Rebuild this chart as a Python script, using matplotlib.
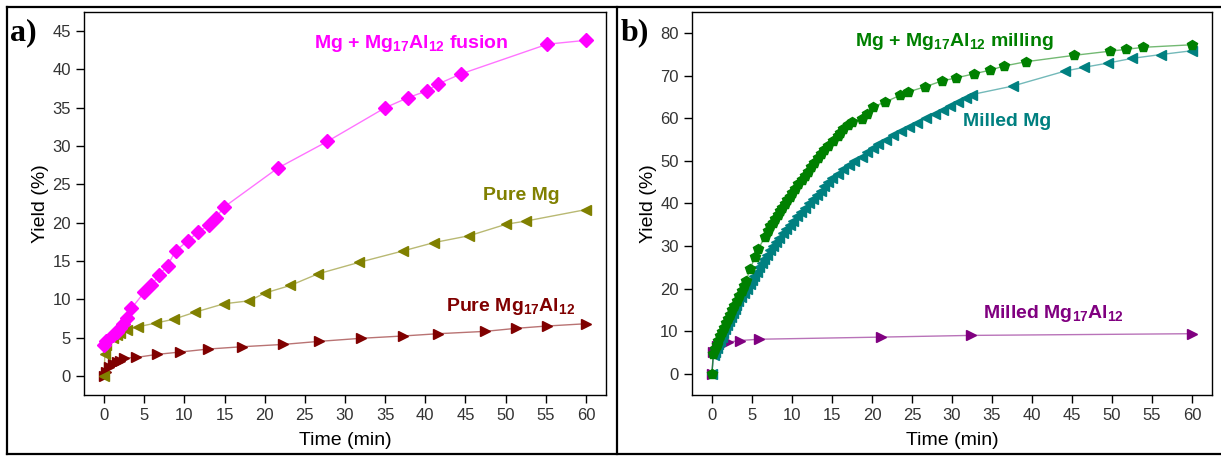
import numpy as np
import matplotlib
matplotlib.use("Agg")
import matplotlib.pyplot as plt
from matplotlib.lines import Line2D

plt.rcParams.update({"font.family": ["Liberation Sans", "DejaVu Sans"],
                     "mathtext.default": "regular",
                     "axes.linewidth": 1.0})

# ---- panel a data ----
fusion_t = [0, 0.3, 1.1, 1.6, 2.0, 2.4, 2.8, 3.4, 5.0, 5.9, 6.8, 7.9, 8.9, 10.4, 11.7,
            13.1, 13.9, 14.9, 21.6, 27.8, 35.0, 37.8, 40.2, 41.6, 44.4, 55.2, 60.0]
fusion_y = [4.0, 4.6, 5.3, 5.7, 6.2, 6.8, 7.5, 8.8, 10.9, 11.8, 13.1, 14.4, 16.3, 17.6, 18.8,
            19.7, 20.6, 22.0, 27.1, 30.6, 35.0, 36.3, 37.2, 38.1, 39.4, 43.3, 43.8]

mg_t = [0, 0.1, 0.3, 1.1, 1.6, 2.0, 2.8, 4.2, 6.5, 8.7, 11.3, 14.9, 18.1, 20.0, 23.2,
        26.6, 31.7, 37.2, 41.1, 45.5, 50.1, 52.5, 60.0]
mg_y = [0.0, 2.9, 4.0, 4.9, 5.3, 5.6, 6.0, 6.4, 6.9, 7.4, 8.3, 9.4, 9.8, 10.8, 11.8,
        13.3, 14.8, 16.3, 17.4, 18.3, 19.8, 20.2, 21.7]

al_t = [0, 0.2, 0.6, 1.1, 1.6, 2.0, 2.5, 4.0, 6.6, 9.4, 13.0, 17.2, 22.3, 26.8, 32.0,
        37.2, 41.6, 47.4, 51.3, 55.1, 60.0]
al_y = [0.0, 0.5, 1.2, 1.6, 1.8, 2.0, 2.3, 2.4, 2.8, 3.1, 3.5, 3.8, 4.1, 4.5, 4.9,
        5.2, 5.5, 5.8, 6.2, 6.5, 6.8]

# ---- panel b data ----
milling_t = [0, 0.17, 0.4, 0.6, 0.8, 1.0, 1.25, 1.5, 1.75, 2.0, 2.25, 2.5, 2.8, 3.1, 3.4,
             3.7, 4.0, 4.3, 4.75, 5.4, 5.8, 6.6, 7.0, 7.3, 7.6, 7.9, 8.2, 8.5, 8.8, 9.1,
             9.4, 9.7, 10.0, 10.4, 10.8, 11.2, 11.6, 12.0, 12.4, 12.8, 13.2, 13.6, 14.0,
             14.5, 15.1, 15.7, 16.0, 16.4, 17.0, 17.5, 18.75, 19.4, 20.1, 21.6, 23.5, 24.5,
             26.6, 28.75, 30.5, 32.8, 34.7, 36.5, 39.2, 45.2, 49.8, 51.7, 53.9, 60.0]
milling_y = [0, 4.6, 5.8, 6.8, 7.8, 8.8, 9.8, 10.8, 11.8, 12.8, 13.8, 14.9, 15.9, 17.0, 18.2,
             19.4, 20.6, 21.8, 24.6, 27.4, 29.3, 32.1, 33.5, 34.6, 35.5, 36.4, 37.3, 38.2, 39.0, 39.9,
             40.8, 41.6, 42.5, 43.5, 44.5, 45.5, 46.5, 47.5, 48.5, 49.6, 50.6, 51.6, 52.5,
             53.6, 54.8, 55.8, 56.6, 57.6, 58.4, 59.1, 59.9, 61.1, 62.7, 63.8, 65.4, 66.2,
             67.4, 68.8, 69.5, 70.5, 71.3, 72.3, 73.3, 74.8, 75.8, 76.2, 76.7, 77.3]

milled_t = [0, 0.2, 0.4, 0.6, 0.8, 1.0, 1.2, 1.4, 1.6, 1.85, 2.1, 2.35, 2.6, 2.85, 3.05,
            3.3, 3.65, 4.0, 4.4, 4.7, 5.0, 5.3, 5.6, 5.9, 6.2, 6.5, 6.85, 7.2, 7.6, 8.0,
            8.4, 8.85, 9.3, 9.7, 10.15, 10.6, 11.1, 11.6, 12.1, 12.6, 13.1, 13.6, 14.0,
            14.5, 15.0, 15.7, 16.4, 17.1, 17.8, 18.7, 19.4, 20.1, 20.8, 21.7, 22.6, 23.6,
            24.6, 25.6, 26.8, 27.9, 28.9, 29.8, 30.8, 31.7, 32.5,
            37.6, 44.1, 46.5, 49.5, 52.5, 56.1, 60.0]
milled_y = [0, 4.3, 5.2, 6.1, 7.0, 7.8, 8.7, 9.6, 10.5, 11.5, 12.5, 13.4, 14.3, 15.2, 16.1,
            17.0, 18.0, 19.0, 20.0, 21.0, 22.0, 23.0, 24.0, 25.0, 26.0, 27.0, 28.0, 29.0, 30.0, 31.0,
            32.0, 33.0, 34.0, 35.0, 36.0, 37.0, 38.0, 39.0, 40.0, 41.0, 42.0, 43.0, 44.0,
            45.0, 46.0, 47.0, 48.0, 49.0, 50.0, 51.0, 52.0, 53.0, 54.0, 55.0, 56.0, 57.0,
            58.0, 59.0, 60.0, 61.0, 62.0, 63.0, 63.9, 64.8, 65.6,
            67.6, 71.1, 72.0, 73.0, 74.1, 75.0, 75.9]

malloy_t = [0, 0.17, 0.6, 1.2, 2.0, 3.5, 5.9, 21.1, 32.4, 60.0]
malloy_y = [0, 5.0, 6.4, 7.0, 7.4, 7.8, 8.1, 8.6, 9.0, 9.4]

MAG, OLV, DRD = "#ff00ff", "#808000", "#800000"
GRN, TEA, PUR = "#008000", "#008080", "#800080"

fig = plt.figure(figsize=(12.21, 4.58), dpi=100)
axa = fig.add_axes([0.0688, 0.1376, 0.4275, 0.8362])
axb = fig.add_axes([0.5667, 0.1376, 0.4259, 0.8362])


def series(ax, t, y, col, mk, ms=7):
    ax.plot(t, y, color=col, lw=1.0, alpha=0.55, zorder=2)
    ax.plot(t, y, ls="none", marker=mk, ms=ms, color=col, mec=col, zorder=3)


series(axa, al_t, al_y, DRD, ">")
series(axa, mg_t, mg_y, OLV, "<")
series(axa, fusion_t, fusion_y, MAG, "D")
series(axb, malloy_t, malloy_y, PUR, ">")
series(axb, milled_t, milled_y, TEA, "<")
series(axb, milling_t, milling_y, GRN, "p")

lab = dict(fontsize=14, fontweight="bold", ha="center", va="center")
axa.text(38.2, 43.4, "Mg + Mg$_{17}$Al$_{12}$ fusion", color=MAG, **lab)
axa.text(52.0, 23.6, "Pure Mg", color=OLV, **lab)
axa.text(50.6, 9.0, "Pure Mg$_{17}$Al$_{12}$", color=DRD, **lab)
axb.text(30.3, 78.1, "Mg + Mg$_{17}$Al$_{12}$ milling", color=GRN, **lab)
axb.text(36.9, 59.2, "Milled Mg", color=TEA, **lab)
axb.text(42.7, 14.1, "Milled Mg$_{17}$Al$_{12}$", color=PUR, **lab)

for ax, ylim, yt in [(axa, (-2.5, 47.5), np.arange(0, 46, 5)),
                     (axb, (-5, 85), np.arange(0, 81, 10))]:
    ax.set_xlim(-2.5, 62.5)
    ax.set_ylim(*ylim)
    ax.set_xticks(np.arange(0, 61, 5))
    ax.set_yticks(yt)
    ax.tick_params(direction="out", length=6, width=1, labelsize=12, labelcolor="#333333")
    ax.set_xlabel("Time (min)", fontsize=14, labelpad=6)
    ax.set_ylabel("Yield (%)", fontsize=14, labelpad=2)

# outer panel frames
for xs, ys in [([0.006, 1.0], [0.985, 0.985]), ([0.006, 1.0], [0.009, 0.009]),
               ([0.006, 0.006], [0.009, 0.985]), ([0.505, 0.505], [0.009, 0.985])]:
    fig.add_artist(Line2D(xs, ys, color="black", lw=1.6, transform=fig.transFigure))

fig.text(0.008, 0.96, "a)", fontsize=23, fontweight="bold", family="Liberation Serif", va="top")
fig.text(0.508, 0.96, "b)", fontsize=23, fontweight="bold", family="Liberation Serif", va="top")

fig.savefig("out.png", dpi=100)
